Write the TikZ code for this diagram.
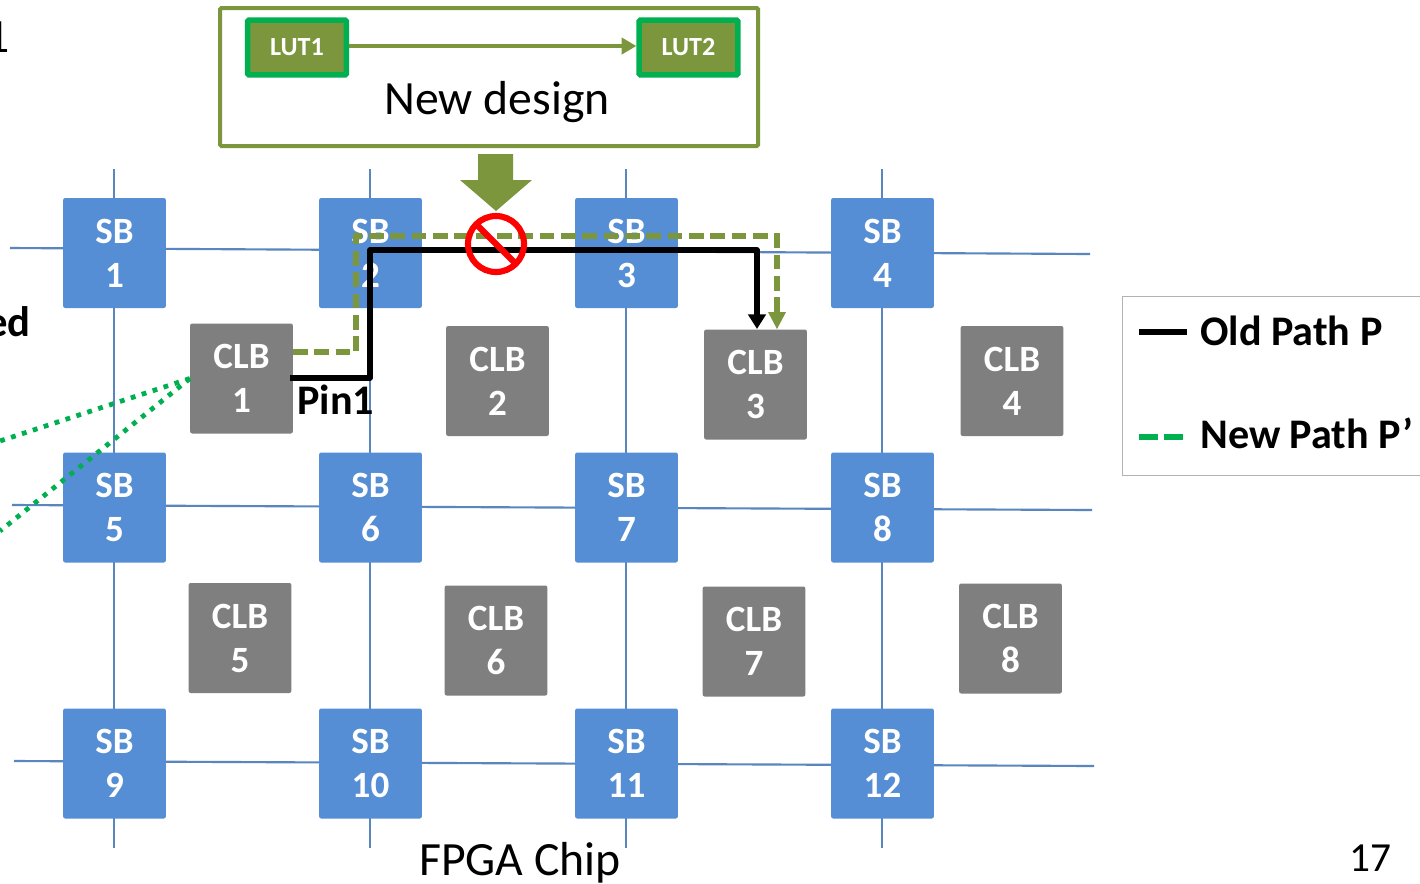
\documentclass[tikz,border=0pt]{standalone}
\usepackage{fontspec}
\setmainfont{Carlito}
\usetikzlibrary{arrows.meta,calc}
\definecolor{sbblue}{HTML}{558ED5}
\definecolor{gridblue}{HTML}{5A86C0}
\definecolor{clbgray}{HTML}{7F7F7F}
\definecolor{olive}{HTML}{7B963C}
\definecolor{lutgreen}{HTML}{00B050}
\tikzset{
  sbbox/.style={fill=sbblue,rounded corners=1.5pt,minimum width=77pt,minimum height=82.5pt,inner sep=0pt,align=center,text=white,font=\fontsize{27.8pt}{33pt}\selectfont\bfseries},
  clbbox/.style={fill=clbgray,rounded corners=1.5pt,minimum width=77pt,minimum height=82.5pt,inner sep=0pt,align=center,text=white,font=\fontsize{27.8pt}{33pt}\selectfont\bfseries},
  gridline/.style={draw=gridblue,line width=1.6pt},
  lutbox/.style={fill=olive,draw=lutgreen,line width=4.2pt,rounded corners=1pt,minimum width=74pt,minimum height=41pt,inner sep=0pt,text=white,font=\fontsize{19.6pt}{22pt}\selectfont\bfseries},
  oldpath/.style={draw=black,line width=4.2pt},
  newpath/.style={draw=olive,line width=4.2pt,dash pattern=on 11pt off 5pt},
  dots/.style={draw=lutgreen,line width=3.6pt,dash pattern=on 3.6pt off 5pt},
  bigtext/.style={font=\fontsize{35.8pt}{40pt}\selectfont,inner sep=0pt},
  boldtext/.style={font=\fontsize{31.6pt}{36pt}\selectfont\bfseries,inner sep=0pt},
}
\begin{document}
\begin{tikzpicture}[x=0.75pt,y=-0.75pt]
\useasboundingbox (0,0) rectangle (1420,883);
\clip (0,0) rectangle (1420,883);
\fill[white] (0,0) rectangle (1420,883);
% grid free ends
\coordinate (h1l) at (10,248); \coordinate (h1r) at (1090,254);
\coordinate (h2l) at (12,505); \coordinate (h2r) at (1092,510);
\coordinate (h3l) at (14,761); \coordinate (h3r) at (1094,766);
\coordinate (v1t) at (114,169); \coordinate (v1b) at (114,848);
\coordinate (v2t) at (370,169); \coordinate (v2b) at (370,848);
\coordinate (v3t) at (626,169); \coordinate (v3b) at (626,848);
\coordinate (v4t) at (882,169); \coordinate (v4b) at (882,848);
\foreach \a/\b in {h1l/h1r,h2l/h2r,h3l/h3r,v1t/v1b,v2t/v2b,v3t/v3b,v4t/v4b}
  \draw[gridline] (\a) -- (\b);
% switch boxes
\node[sbbox] (sb1) at (114.5,253) {SB\\1};
\node[sbbox] (sb2) at (370.5,253) {SB\\2};
\node[sbbox] (sb3) at (626.5,253) {SB\\3};
\node[sbbox] (sb4) at (882.5,253) {SB\\4};
\node[sbbox] (sb5) at (114.5,507.5) {SB\\5};
\node[sbbox] (sb6) at (370.5,507.5) {SB\\6};
\node[sbbox] (sb7) at (626.5,507.5) {SB\\7};
\node[sbbox] (sb8) at (882.5,507.5) {SB\\8};
\node[sbbox] (sb9) at (114.5,763.5) {SB\\9};
\node[sbbox] (sb10) at (370.5,763.5) {SB\\10};
\node[sbbox] (sb11) at (626.5,763.5) {SB\\11};
\node[sbbox] (sb12) at (882.5,763.5) {SB\\12};
% CLBs
\node[clbbox] (clb1) at (241.5,378.5) {CLB\\1};
\node[clbbox] (clb2) at (497.5,381) {CLB\\2};
\node[clbbox] (clb3) at (755.5,384.5) {CLB\\3};
\node[clbbox] (clb4) at (1012,381) {CLB\\4};
\node[clbbox] (clb5) at (240,638) {CLB\\5};
\node[clbbox] (clb6) at (496,640.5) {CLB\\6};
\node[clbbox] (clb7) at (754,641.5) {CLB\\7};
\node[clbbox] (clb8) at (1010.5,638.5) {CLB\\8};
% top design box
\node[draw=olive,line width=3pt,rounded corners=1pt,fill=white,minimum width=403.5pt,minimum height=103.5pt,inner sep=0pt] (design) at (489,77) {};
\node[lutbox] (lut1) at (297,47.5) {LUT1};
\node[lutbox] (lut2) at (688.5,47.5) {LUT2};
\draw[draw=olive,line width=3pt,-{Triangle[length=11pt,width=12pt,fill=olive]}] (lut1.east |- 0,46) -- (lut2.west |- 0,46);
\node[bigtext] (newdesign) at (497,102) {New design};
% big arrow
\fill[olive] (478,154) -- (513,154) -- (513,180) -- (532,180) -- (496,211) -- (460,180) -- (478,180) -- cycle;
% paths
\coordinate (oldstart) at (290,378);
\coordinate (oldb) at (370,378);
\coordinate (oldc) at (370,250);
\coordinate (oldd) at (757,250);
\coordinate (olde) at (757,329);
\draw[oldpath,line join=round,-{Triangle[length=11pt,width=13pt]}] (oldstart) -- (oldb) -- (oldc) -- (oldd) -- (olde);
\coordinate (newstart) at (293,352);
\coordinate (newb) at (356,352);
\coordinate (newc) at (356,236);
\coordinate (newd) at (777,236);
\coordinate (newe) at (777,329);
\draw[newpath] (newstart) -- (newb) -- (newc) -- (newd) -- ($(newe)+(0,-10)$);
\fill[olive] ($(newe)+(-9,-17)$) -- ($(newe)+(9,-17)$) -- (newe) -- cycle;
% prohibition sign
\draw[red,line width=4.6pt] (496,244) ellipse [x radius=28,y radius=28];
\draw[red,line width=4.6pt] (476,224) -- (516,264);
% dotted links
\coordinate (d1) at (0,441);
\coordinate (d2) at (0,531);
\draw[dots] (clb1.west) -- (d1);
\draw[dots] (clb1.west) -- (d2);
% labels
\node[boldtext,anchor=west] (pin) at (297,400) {Pin1};
\node[bigtext,anchor=east] (cut1) at (10,37) {1};
\node[boldtext,font=\fontsize{32pt}{36pt}\selectfont\bfseries,anchor=east] (cut2) at (31,322) {ed};
\node[bigtext] (chip) at (520,863) {FPGA Chip};
\node[font=\fontsize{31pt}{34pt}\selectfont,inner sep=0pt] (pagenum) at (1370,858) {17};
% legend
\node[draw=black!30,line width=1pt,fill=white,minimum width=300pt,minimum height=134pt,inner sep=0pt,anchor=north west] (legend) at (1122,296) {};
\coordinate (l1a) at (1139,332); \coordinate (l1b) at (1187,332);
\coordinate (l2a) at (1139,437); \coordinate (l2b) at (1183,437);
\draw[oldpath] (l1a) -- (l1b);
\draw[draw=lutgreen,line width=4.2pt,dash pattern=on 14pt off 5pt] (l2a) -- (l2b);
\node[boldtext,anchor=west] (oldlabel) at (1200,331) {Old Path P};
\node[boldtext,anchor=west] (newlabel) at (1200,433) {New Path P’};
\end{tikzpicture}
\end{document}
